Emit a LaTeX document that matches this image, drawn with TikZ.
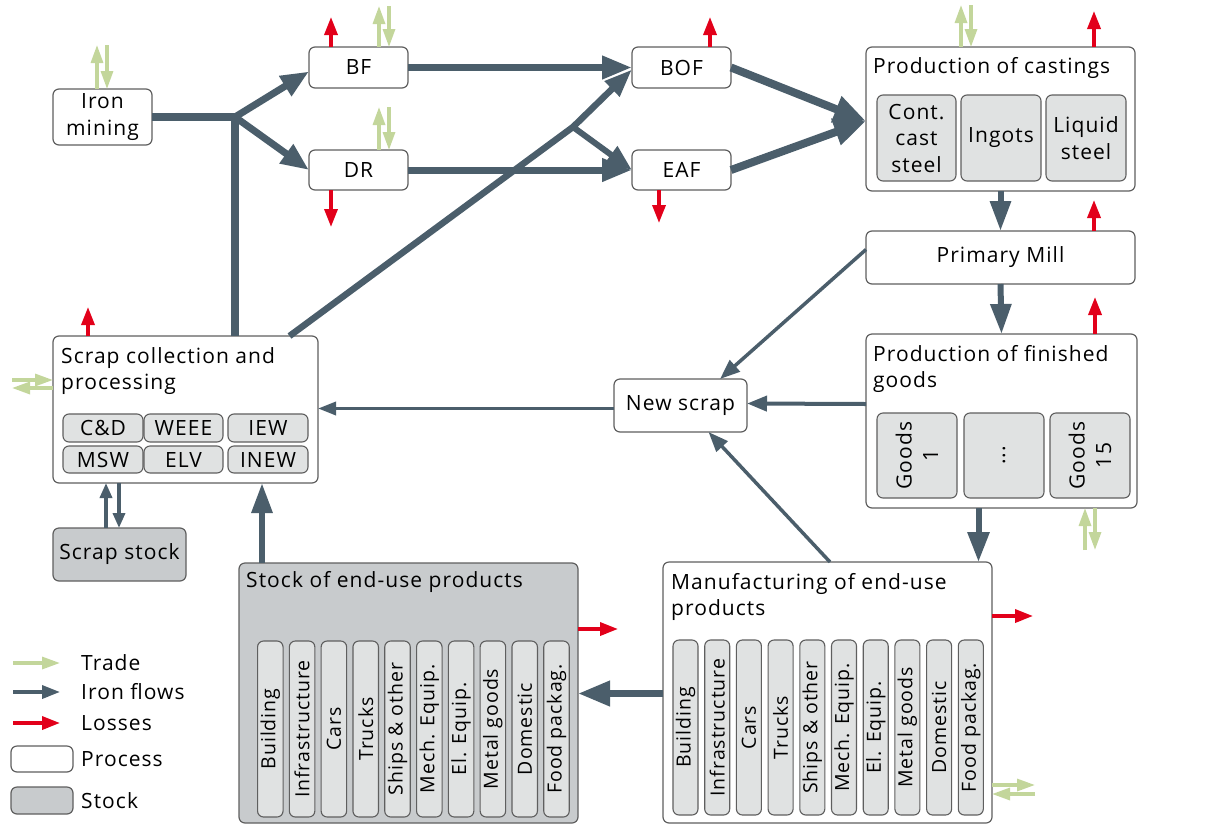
\documentclass[tikz,border=0pt]{standalone}
\usepackage{fontspec}
\setmainfont{Open Sans}[LetterSpace=5]
\usetikzlibrary{arrows.meta}
\definecolor{flow}{RGB}{75,94,107}
\definecolor{trade}{RGB}{195,214,155}
\definecolor{loss}{RGB}{226,0,26}
\definecolor{subfill}{RGB}{224,226,226}
\definecolor{stockfill}{RGB}{200,203,205}
\definecolor{bord}{RGB}{95,95,95}
\newcommand\pbox[7]{\node[#2, anchor=north west, minimum width={#5-#3}, minimum height={#6-#4}] (#1) at (#3,#4) {#7};}
\begin{document}
\begin{tikzpicture}[x=1pt,y=-1pt,
  every node/.style={font=\fontsize{21}{26.5}\selectfont, text=black},
  proc/.style={draw=bord, line width=1.2pt, rounded corners=6pt, fill=white, inner sep=0pt, outer sep=0pt, align=center},
  stk/.style={proc, fill=stockfill},
  sub/.style={draw=bord, line width=1.1pt, rounded corners=6pt, fill=subfill, inner sep=0pt, outer sep=0pt, align=center},
  vsub/.style={sub, rotate=90, font=\fontsize{19.5}{24}\selectfont},
  lbl/.style={inner sep=0pt, anchor=base west, align=left},
  fl/.style n args={3}{draw=flow, line width=#1, -{Triangle[length=#2, width=#3]}},
  lossar/.style={draw=loss, line width=3.5pt, -{Triangle[length=18pt, width=13pt]}},
  tradear/.style={draw=trade, line width=3.2pt, -{Triangle[length=18pt, width=12pt]}}]
\useasboundingbox (0,0) rectangle (1215,825);

% process boxes
\pbox{iron}{proc}{53}{89}{152}{145}{Iron\\mining}
\pbox{bf}{proc}{309}{47}{408}{88}{BF}
\pbox{dr}{proc}{309}{150}{408}{190}{DR}
\pbox{bof}{proc}{632}{47}{731}{88}{BOF}
\pbox{eaf}{proc}{632}{150}{731}{190}{EAF}
\pbox{cast}{proc}{866}{47}{1135}{191}{}
\pbox{mill}{proc}{866}{231}{1135}{284}{Primary Mill}
\pbox{fin}{proc}{866}{334}{1137}{508}{}
\pbox{news}{proc}{614}{379}{747}{432}{New scrap}
\pbox{scrap}{proc}{53}{336}{318}{483}{}
\pbox{sstock}{stk}{53}{528}{186}{581}{Scrap stock}
\pbox{euse}{stk}{239}{563}{578}{823}{}
\pbox{manu}{proc}{663}{562}{992}{823}{}

% titles (base anchor = last line's baseline)
\node[lbl] (castT) at (873,73) {Production of castings};
\node[lbl] (finT) at (873,387.5) {Production of finished\\goods};
\node[lbl] (scrapT) at (61,389.5) {Scrap collection and\\processing};
\node[lbl] (euseT) at (246,587) {Stock of end-use products};
\node[lbl] (manuT) at (671,615.5) {Manufacturing of end-use\\products};

% castings sub-boxes
\pbox{cc}{sub}{877}{95}{956}{181}{Cont.\\cast\\steel}
\pbox{ing}{sub}{961}{95}{1041}{181}{Ingots}
\pbox{liq}{sub}{1046}{95}{1126}{181}{Liquid\\steel}

% finished goods sub-boxes
\node[sub, rotate=90, minimum width=85, minimum height=80] (g1) at (917,455.5) {Goods\\1};
\node[sub, rotate=90, minimum width=85, minimum height=80] (gd) at (1004,455.5) {...};
\node[sub, rotate=90, minimum width=85, minimum height=80] (g15) at (1090,455.5) {Goods\\15};

% scrap sub-boxes
\pbox{cd}{sub}{63}{414}{143}{442}{C\&D}
\pbox{weee}{sub}{144}{414}{223}{442}{WEEE}
\pbox{iew}{sub}{228}{414}{308}{442}{IEW}
\pbox{msw}{sub}{63}{446}{143}{473}{MSW}
\pbox{elv}{sub}{144}{446}{223}{473}{ELV}
\pbox{inew}{sub}{228}{446}{308}{473}{INEW}

% end-use sub-boxes
\foreach \t [count=\i from 0] in {Building,Infrastructure,Cars,Trucks,Ships \& other,Mech. Equip.,El. Equip.,Metal goods,Domestic,Food packag.}{
  \node[vsub, minimum width=176, minimum height=25.5] (e\i) at (270.3+31.8*\i,729) {\t};
  \node[vsub, minimum width=175, minimum height=25] (m\i) at (685.5+31.7*\i,727.5) {\t};
}

% iron flows
\coordinate (j1) at (235,117);
\coordinate (j2) at (573,127);
\coordinate (s0) at ([xshift=104pt]scrap.north);
\draw[draw=flow, line width=7.5pt, line join=miter] (iron.east) -- (j1) -- (j1 |- scrap.north);
\draw[fl={7pt}{28pt}{22pt}] (j1) -- ([yshift=-4pt]bf.west);
\draw[fl={7pt}{28pt}{22pt}] (j1) -- (dr.west);
\draw[fl={7pt}{30pt}{22pt}] (bf.east) -- (bof.west);
\draw[fl={7pt}{30pt}{22pt}] (dr.east) -- (eaf.west);
\draw[fl={6.5pt}{28pt}{20pt}, line join=round] (s0) -- (j2) -- ([yshift=-2pt]bof.west);
\draw[fl={6pt}{26pt}{20pt}] (j2) -- (eaf.west);
\coordinate (cin) at ([yshift=-2pt]cast.west);
\draw[fl={8pt}{32pt}{26pt}] (bof.east) -- (cin);
\draw[fl={8pt}{32pt}{26pt}] (eaf.east) -- (cin);
\draw[fl={6pt}{30pt}{20pt}] (cast.south) -- (mill.north);
\draw[fl={6pt}{30pt}{20pt}] (mill.south) -- (fin.north);
\draw[fl={6pt}{30pt}{21pt}] ([xshift=-23pt]fin.south) -- ([xshift=-23pt]fin.south |- manu.north);
\draw[fl={3.5pt}{20pt}{15pt}] ([yshift=8pt]mill.west) -- ([xshift=106pt]news.north west);
\draw[fl={4pt}{20pt}{15pt}] ([yshift=17pt]fin.west) -- ([yshift=2pt]news.east);
\draw[fl={3.5pt}{20pt}{15pt}] ([xshift=2.5pt]manu.north) -- ([xshift=28pt]news.south);
\draw[fl={3.5pt}{18pt}{13pt}] ([yshift=-3pt]news.west) -- ([yshift=-3pt]news.west -| scrap.east);
\draw[fl={7pt}{32pt}{24pt}] ([yshift=-1pt]manu.west) -- ([yshift=-1pt]manu.west -| euse.east);
\draw[fl={6pt}{30pt}{20pt}] ([xshift=23pt]euse.north west) -- ([xshift=23pt]euse.north west |- scrap.south);
\draw[fl={3.5pt}{15pt}{12pt}] ([xshift=53pt]sstock.north west) -- ([xshift=53pt]sstock.north west |- scrap.south);
\draw[fl={3.5pt}{15pt}{12pt}] ([xshift=66pt]sstock.north west |- scrap.south) -- ([xshift=66pt]sstock.north west);

% losses
\draw[lossar] ([xshift=-27.5pt]bf.north) -- ++(0,-30);
\draw[lossar] ([xshift=-27.5pt]dr.south) -- ++(0,37);
\draw[lossar] ([xshift=28.5pt]bof.north) -- ++(0,-30);
\draw[lossar] ([xshift=-22.5pt]eaf.south) -- ++(0,33);
\draw[lossar] ([xshift=93.5pt]cast.north) -- ++(0,-36);
\draw[lossar] ([xshift=93.5pt]mill.north) -- ++(0,-31);
\draw[lossar] ([xshift=93.5pt]fin.north) -- ++(0,-37);
\draw[lossar] ([xshift=35pt]scrap.north west) -- ++(0,-29);
\draw[lossar] (euse.east |- 0,629) -- ++(40,0);
\draw[lossar] (manu.east |- 0,616) -- ++(41,0);

% trade
\draw[tradear] ([xshift=-5.5pt]iron.north) -- ++(0,-44);
\draw[tradear] ([xshift=4.5pt]iron.north) ++(0,-44) -- ([xshift=4.5pt]iron.north);
\draw[tradear] ([xshift=20.5pt]bf.north) -- ++(0,-41);
\draw[tradear] ([xshift=30.5pt]bf.north) ++(0,-41) -- ([xshift=30.5pt]bf.north);
\draw[tradear] ([xshift=20.5pt]dr.north) -- ++(0,-43);
\draw[tradear] ([xshift=30.5pt]dr.north) ++(0,-43) -- ([xshift=30.5pt]dr.north);
\draw[tradear] ([xshift=-39.5pt]cast.north) -- ++(0,-42);
\draw[tradear] ([xshift=-29.5pt]cast.north) ++(0,-42) -- ([xshift=-29.5pt]cast.north);
\draw[tradear] ([xshift=83.5pt]fin.south) ++(0,42) -- ([xshift=83.5pt]fin.south);
\draw[tradear] ([xshift=93.5pt]fin.south) -- ++(0,42);
\draw[tradear] (12,380) -- (scrap.west |- 0,380);
\draw[tradear] (scrap.west |- 0,388) -- (12,388);
\draw[tradear] (manu.east |- 0,785) -- ++(43,0);
\draw[tradear] (1035,794) -- (manu.east |- 0,794);

% legend
\coordinate (lt0) at (13,663); \coordinate (lt1) at (60,663);
\coordinate (lf0) at (13,692); \coordinate (lf1) at (60,692);
\coordinate (ll0) at (13,723); \coordinate (ll1) at (60,723);
\draw[tradear] (lt0) -- (lt1);
\draw[fl={3.5pt}{18pt}{13pt}] (lf0) -- (lf1);
\draw[lossar] (ll0) -- (ll1);
\node[anchor=west, inner sep=0pt] (ltT) at (81,663) {Trade};
\node[anchor=west, inner sep=0pt] (lfT) at (81,692) {Iron flows};
\node[anchor=west, inner sep=0pt] (llT) at (81,723) {Losses};
\pbox{lp}{proc}{11}{746}{73}{772}{}
\pbox{ls}{stk}{11}{787}{73}{814}{}
\node[anchor=west, inner sep=0pt] (lpT) at (81,759) {Process};
\node[anchor=west, inner sep=0pt] (lsT) at (81,801) {Stock};
\end{tikzpicture}
\end{document}
